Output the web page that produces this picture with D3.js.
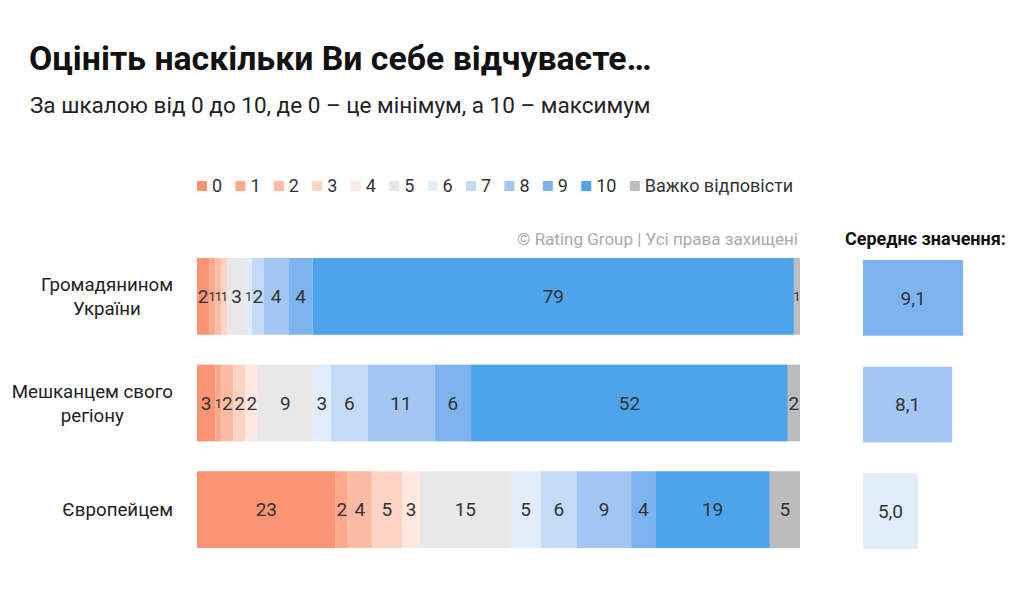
<!DOCTYPE html>
<html>
<head>
<meta charset="utf-8">
<script src="https://cdn.jsdelivr.net/npm/d3@7"></script>
<style>
  body { margin: 0; background: #fff; }
  svg { font-family: Roboto, sans-serif; }
</style>
</head>
<body>
<svg id="chart"></svg>
<script>
var W = 1024, H = 609;

// categories and values
var rows = [["Громадянином", "України"], ["Мешканцем свого", "регіону"], ["Європейцем"]];
var keys = ["0", "1", "2", "3", "4", "5", "6", "7", "8", "9", "10", "Важко відповісти"];
var values = [
  [2, 1, 1, 1, 0, 3, 1, 2, 4, 4, 79, 1],
  [3, 1, 2, 2, 2, 9, 3, 6, 11, 6, 52, 2],
  [23, 2, 4, 5, 3, 15, 5, 6, 9, 4, 19, 5]
];
var means = [9.1, 8.1, 5.0];
var meanLabels = ["9,1", "8,1", "5,0"];
var meanColorKeys = ["9", "8", "6"];
var colors = ["#fa9474", "#fba88b", "#fcbca4", "#fdd4c3", "#fde9e2", "#e8e8e8",
              "#e2edfb", "#c4dbf7", "#a3c7f2", "#7db4ef", "#4da4ea", "#bdbdbd"];

var svg = d3.select("#chart").attr("width", W).attr("height", H);

var color = d3.scaleOrdinal().domain(keys).range(colors);

// title
svg.append("text")
    .attr("x", 29).attr("y", 70)
    .attr("font-size", 33.8).attr("font-weight", 700)
    .attr("fill", "#111")
    .text("Оцініть наскільки Ви себе відчуваєте…");
svg.append("text")
    .attr("x", 30).attr("y", 113)
    .attr("font-size", 22.5)
    .attr("fill", "#222")
    .text("За шкалою від 0 до 10, де 0 – це мінімум, а 10 – максимум");

// legend
var leg = svg.append("g").attr("transform", "translate(197,186)");
var lx = 0;
keys.forEach(function(k) {
  var g = leg.append("g").attr("transform", `translate(${lx},0)`);
  g.append("rect").attr("x", 0).attr("y", -5).attr("width", 10).attr("height", 10).attr("fill", color(k));
  var t = g.append("text").attr("x", 15).attr("y", 0).attr("dy", "0.35em")
      .attr("font-size", 18).attr("fill", "#333").text(k);
  lx += 15 + t.node().getComputedTextLength() + 13.3;
});

// copyright
svg.append("text")
    .attr("x", 798).attr("y", 245)
    .attr("text-anchor", "end")
    .attr("font-size", 17).attr("fill", "#aaa")
    .text("© Rating Group | Усі права захищені");

svg.append("text")
    .attr("x", 845).attr("y", 245)
    .attr("font-size", 18).attr("font-weight", 700).attr("fill", "#111")
    .text("Середнє значення:");

// scales
var y = d3.scaleBand().domain(d3.range(rows.length)).range([258, 548]).paddingInner(0.28);

var stacked = values.map(function(v) {
  var total = d3.sum(v);
  var x = d3.scaleLinear().domain([0, total]).range([197, 800]);
  var acc = 0;
  return v.map(function(d, i) {
    var s = { key: keys[i], value: d, x0: x(acc), x1: x(acc + d) };
    acc += d;
    return s;
  });
});

var bars = svg.append("g").selectAll("g").data(stacked).join("g")
    .attr("transform", (d, i) => `translate(0,${y(i)})`);

bars.selectAll("rect").data(d => d.filter(s => s.value > 0)).join("rect")
    .attr("x", d => d.x0)
    .attr("width", d => d.x1 - d.x0)
    .attr("height", y.bandwidth())
    .attr("fill", d => color(d.key));

// shrink labels that are much wider than their segment
function labelSize(d) {
  var w = d.x1 - d.x0;
  var n = String(d.value).length;
  return Math.min(19, Math.max(13, w / (0.56 * n)));
}

bars.selectAll("text").data(d => d.filter(s => s.value > 0)).join("text")
    .attr("x", d => (d.x0 + d.x1) / 2)
    .attr("y", y.bandwidth() / 2)
    .attr("dy", "0.35em")
    .attr("text-anchor", "middle")
    .attr("font-size", labelSize).attr("fill", "#333")
    .text(d => d.value);

// row labels
rows.forEach(function(lines, i) {
  var g = svg.append("g");
  var cy = y(i) + y.bandwidth() / 2;
  var lh = 24;
  var ts = lines.map(function(l, j) {
    return g.append("text")
      .attr("y", cy + (j - (lines.length - 1) / 2) * lh)
      .attr("dy", "0.35em")
      .attr("text-anchor", "middle")
      .attr("font-size", 18.7).attr("fill", "#222")
      .text(l);
  });
  var maxW = d3.max(ts, t => t.node().getComputedTextLength());
  ts.forEach(t => t.attr("x", 173 - maxW / 2));
});

// mean values
var mx = d3.scaleLinear().domain([0, 10]).range([0, 110]);
var mg = svg.append("g").attr("transform", "translate(863,0)");
mg.selectAll("rect").data(means).join("rect")
    .attr("x", 0)
    .attr("y", (d, i) => y(i) + 2)
    .attr("width", d => mx(d))
    .attr("height", y.bandwidth() - 1)
    .attr("fill", (d, i) => color(meanColorKeys[i]));
mg.selectAll("text").data(means).join("text")
    .attr("x", d => mx(d) / 2)
    .attr("y", (d, i) => y(i) + 1.5 + y.bandwidth() / 2)
    .attr("dy", "0.35em")
    .attr("text-anchor", "middle")
    .attr("font-size", 19).attr("fill", "#333")
    .text((d, i) => meanLabels[i]);
</script>
</body>
</html>
